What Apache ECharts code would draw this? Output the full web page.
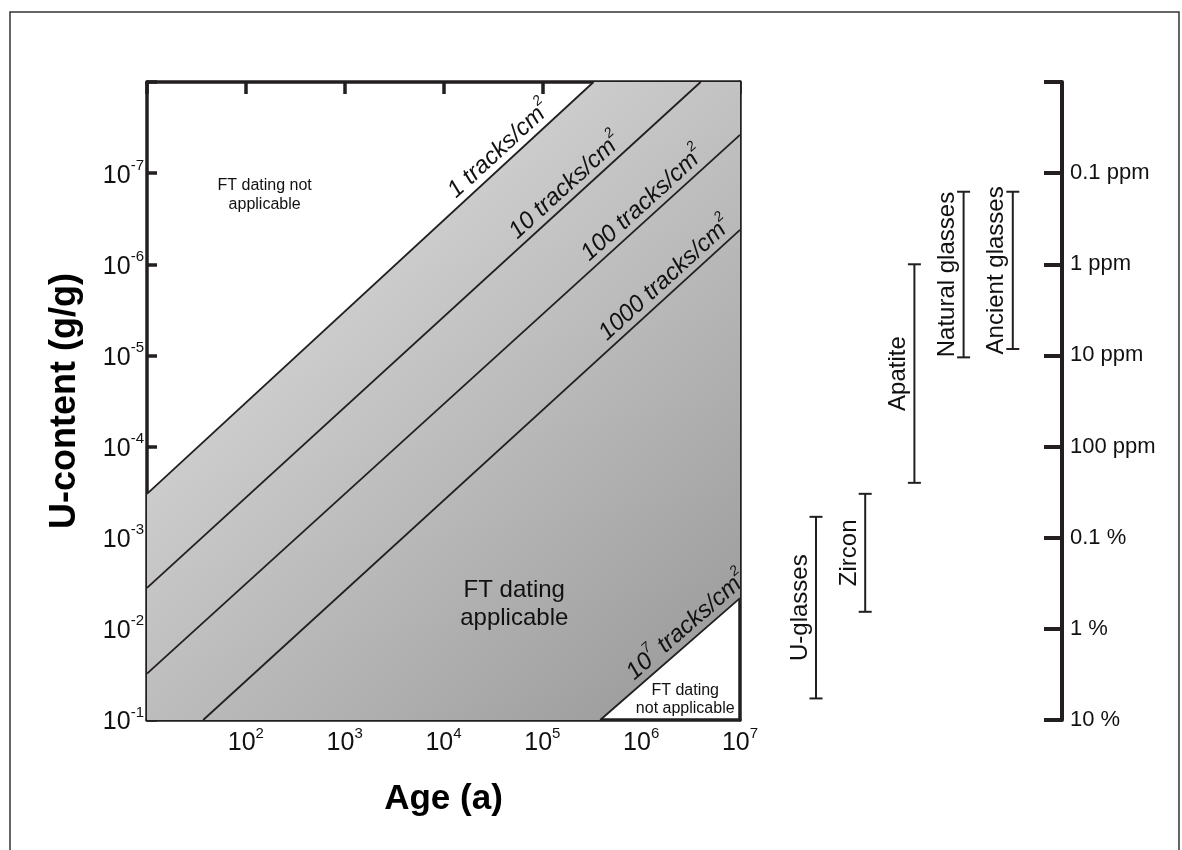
<!DOCTYPE html>
<html><head><meta charset="utf-8">
<script src="https://cdn.jsdelivr.net/npm/echarts@6/dist/echarts.min.js"></script>
<style>html,body{margin:0;padding:0;background:#fff}#c{width:1182px;height:850px}</style>
</head><body><div id="c"></div>
<script>
// ---- data ----
const AGE_MIN = 10, AGE_MAX = 1e7;
const U_MIN = 1e-8, U_MAX = 1e-1;
const trackLabels = ['1', '10', '100', '1000', '10^7'];
const trackAge = [[10, 3.3e5], [10, 4.0e6], [10, 1e7], [37, 1e7], [3.85e5, 1e7]];
const trackU = [[3.3e-4, 1e-8], [3.55e-3, 1e-8], [3.1e-2, 3.8e-8], [1e-1, 4.2e-7], [1e-1, 4.6e-3]];
const trackLabelAge = [4.6e4, 2.15e5, 1.3e6, 2.2e6, 3.6e6];
const noteTexts = ['FT dating not\napplicable', 'FT dating\napplicable', 'FT dating\nnot applicable'];
const noteAge = [155, 5.2e4, 2.79e6];
const noteU = [1.74e-7, 5.4e-3, 5.9e-2];
const minerals = ['U-glasses', 'Zircon', 'Apatite', 'Natural glasses', 'Ancient glasses'];
const mineralLow = [5.9e-4, 3.3e-4, 1.0e-6, 1.6e-7, 1.6e-7];
const mineralHigh = [5.8e-2, 6.5e-3, 2.5e-4, 1.05e-5, 8.5e-6];
const scaleValues = [1e-7, 1e-6, 1e-5, 1e-4, 1e-3, 1e-2, 1e-1];
const scaleLabels = ['0.1 ppm', '1 ppm', '10 ppm', '100 ppm', '0.1 %', '1 %', '10 %'];

// ---- style ----
const FONT = "'Liberation Sans', Arial, Helvetica, sans-serif";
const INK = '#231f20';
const TXT = '#111111';
const chart = echarts.init(document.getElementById('c'), null, {renderer: 'canvas'});

function supLabel(e) { return '{b|10}{s|' + e + '}'; }
const supRich = {
  b: {fontSize: 25, fontFamily: FONT, color: TXT, padding: [5, 0, 0, 0]},
  s: {fontSize: 15, fontFamily: FONT, color: TXT, verticalAlign: 'top'}
};

function renderRegion(params, api) {
  const pts = [
    [trackAge[0][0], trackU[0][0]],
    [trackAge[0][1], trackU[0][1]],
    [AGE_MAX, U_MIN],
    [trackAge[4][1], trackU[4][1]],
    [trackAge[4][0], trackU[4][0]],
    [AGE_MIN, U_MAX]
  ].map(p => api.coord(p));
  const a = api.coord([AGE_MIN, U_MIN]), b = api.coord([AGE_MAX, U_MAX]);
  return {
    type: 'polygon', silent: true,
    shape: {points: pts},
    style: {fill: new echarts.graphic.LinearGradient(a[0], a[1], b[0], b[1],
      [{offset: 0, color: '#e8e8e8'}, {offset: 1, color: '#979797'}], true)}
  };
}

function renderTrackLabels(params, api) {
  const children = trackLabels.map((lab, i) => {
    const lt0 = Math.log10(trackAge[i][0]), lt1 = Math.log10(trackAge[i][1]);
    const lu0 = Math.log10(trackU[i][0]), lu1 = Math.log10(trackU[i][1]);
    const lt = Math.log10(trackLabelAge[i]);
    const lu = lu0 + (lt - lt0) * (lu1 - lu0) / (lt1 - lt0);
    const p = api.coord([Math.pow(10, lt), Math.pow(10, lu)]);
    const p0 = api.coord([trackAge[i][0], trackU[i][0]]);
    const p1 = api.coord([trackAge[i][1], trackU[i][1]]);
    const dx = p1[0] - p0[0], dy = p1[1] - p0[1], len = Math.hypot(dx, dy);
    const off = 2;
    const txt = lab === '10^7' ? '{a|10}{s|7}{a| tracks/cm}{s|2}' : '{a|' + lab + ' tracks/cm}{s|2}';
    return {
      type: 'text', silent: true,
      x: p[0] + dy / len * off, y: p[1] - dx / len * off,
      rotation: Math.atan2(-dy, dx),
      style: {
        text: txt, align: 'center', verticalAlign: 'bottom', fill: TXT,
        rich: {
          a: {fontSize: 24, fontStyle: 'italic', fontFamily: FONT, fill: TXT, padding: [5, 0, 0, 0]},
          s: {fontSize: 14, fontStyle: 'italic', fontFamily: FONT, fill: TXT, verticalAlign: 'top'}
        }
      }
    };
  });
  return {type: 'group', children};
}

function renderNotes(params, api) {
  const sizes = [16, 24, 16];
  const lh = [19, 28, 18];
  const children = noteTexts.map((t, i) => {
    const p = api.coord([noteAge[i], noteU[i]]);
    return {
      type: 'text', silent: true, x: p[0], y: p[1],
      style: {text: t, align: 'center', verticalAlign: 'middle', fill: TXT,
        fontSize: sizes[i], lineHeight: lh[i], fontFamily: FONT}
    };
  });
  return {type: 'group', children};
}

function renderRanges(params, api) {
  const x = api.value(0);
  const lo = api.coord([x, api.value(1)]);
  const hi = api.coord([x, api.value(2)]);
  const cap = 6.5;
  const ls = {stroke: INK, lineWidth: 2};
  return {
    type: 'group', silent: true,
    children: [
      {type: 'line', shape: {x1: lo[0], y1: lo[1], x2: hi[0], y2: hi[1]}, style: ls},
      {type: 'line', shape: {x1: lo[0] - cap, y1: lo[1], x2: lo[0] + cap, y2: lo[1]}, style: ls},
      {type: 'line', shape: {x1: hi[0] - cap, y1: hi[1], x2: hi[0] + cap, y2: hi[1]}, style: ls},
      {type: 'text', x: lo[0] - 4, y: (lo[1] + hi[1]) / 2, rotation: Math.PI / 2,
        style: {text: minerals[params.dataIndex], align: 'center', verticalAlign: 'bottom',
          fill: TXT, fontSize: 24, fontFamily: FONT}}
    ]
  };
}

const axisLineStyle = {color: INK, width: 3.5};
const logX = {type: 'log', logBase: 10, min: AGE_MIN, max: AGE_MAX, gridIndex: 0};
const logY = {type: 'log', logBase: 10, min: U_MIN, max: U_MAX, inverse: true};

const series = [
  {type: 'custom', xAxisIndex: 0, yAxisIndex: 0, renderItem: renderRegion, data: [[AGE_MIN, U_MIN]], z: 1, silent: true}
];
trackLabels.forEach((lab, i) => {
  series.push({
    type: 'line', name: lab + ' tracks/cm2', xAxisIndex: 0, yAxisIndex: 0,
    data: trackAge[i].map((t, j) => [t, trackU[i][j]]),
    symbol: 'none', silent: true, z: 3,
    lineStyle: {color: INK, width: 1.8}
  });
});
series.push({type: 'custom', xAxisIndex: 0, yAxisIndex: 0, renderItem: renderTrackLabels, data: [[AGE_MIN, U_MIN]], z: 4, silent: true});
series.push({type: 'custom', xAxisIndex: 0, yAxisIndex: 0, renderItem: renderNotes, data: [[AGE_MIN, U_MIN]], z: 4, silent: true});
series.push({
  type: 'custom', xAxisIndex: 2, yAxisIndex: 2, renderItem: renderRanges, z: 4, silent: true,
  encode: {x: 0, y: [1, 2]},
  data: minerals.map((m, i) => [i, mineralLow[i], mineralHigh[i]])
});

chart.setOption({
  animation: false,
  backgroundColor: '#ffffff',
  textStyle: {fontFamily: FONT},
  grid: [
    {left: 147, right: 442, top: 82, bottom: 130},
    {left: 816, right: 120, top: 82, bottom: 130}
  ],
  xAxis: [
    Object.assign({}, logX, {
      position: 'bottom',
      axisLine: {show: true, lineStyle: axisLineStyle},
      axisTick: {show: false}, splitLine: {show: false}, minorTick: {show: false},
      axisLabel: {margin: 6, showMinLabel: true, showMaxLabel: true,
        formatter: v => { const e = Math.round(Math.log10(v)); return e === 1 ? '' : supLabel(e); },
        rich: supRich},
      name: 'Age (a)', nameLocation: 'middle', nameGap: 62,
      nameTextStyle: {fontSize: 35, fontWeight: 'bold', color: '#000', fontFamily: FONT}
    }),
    Object.assign({}, logX, {
      position: 'top',
      axisLine: {show: true, lineStyle: axisLineStyle},
      axisTick: {show: true, inside: true, length: 12, lineStyle: {color: INK, width: 3.5}},
      axisLabel: {show: false}, splitLine: {show: false}
    }),
    {type: 'category', gridIndex: 1, data: minerals.concat(['']), boundaryGap: false, show: false}
  ],
  yAxis: [
    Object.assign({}, logY, {
      gridIndex: 0, position: 'left',
      axisLine: {show: true, lineStyle: axisLineStyle},
      axisTick: {show: true, inside: true, length: 10, lineStyle: {color: INK, width: 3.5}},
      splitLine: {show: false},
      axisLabel: {margin: 3, showMinLabel: true, showMaxLabel: true,
        formatter: v => { const e = Math.round(Math.log10(v)); return e === -8 ? '' : supLabel(e); },
        rich: supRich},
      name: 'U-content (g/g)', nameLocation: 'middle', nameGap: 64,
      nameTextStyle: {fontSize: 36, fontWeight: 'bold', color: '#000', fontFamily: FONT}
    }),
    Object.assign({}, logY, {
      gridIndex: 0, position: 'right',
      axisLine: {show: true, lineStyle: axisLineStyle},
      axisTick: {show: false}, axisLabel: {show: false}, splitLine: {show: false}
    }),
    Object.assign({}, logY, {
      gridIndex: 1, position: 'right',
      axisLine: {show: true, lineStyle: {color: INK, width: 4}},
      axisTick: {show: true, inside: true, length: 18, lineStyle: {color: INK, width: 4}},
      splitLine: {show: false},
      axisLabel: {show: true, inside: false, margin: 8, color: TXT, fontSize: 22, fontFamily: FONT,
        showMinLabel: true, showMaxLabel: true,
        formatter: v => {
          const lv = Math.log10(v);
          const i = scaleValues.findIndex(s => Math.abs(Math.log10(s) - lv) < 0.01);
          return i < 0 ? '' : scaleLabels[i];
        }}
    })
  ],
  graphic: [{
    type: 'rect', silent: true, z: 100,
    shape: {x: 10, y: 12, width: 1169, height: 870},
    style: {fill: 'none', stroke: '#333', lineWidth: 1.5}
  }],
  series
});
</script></body></html>
